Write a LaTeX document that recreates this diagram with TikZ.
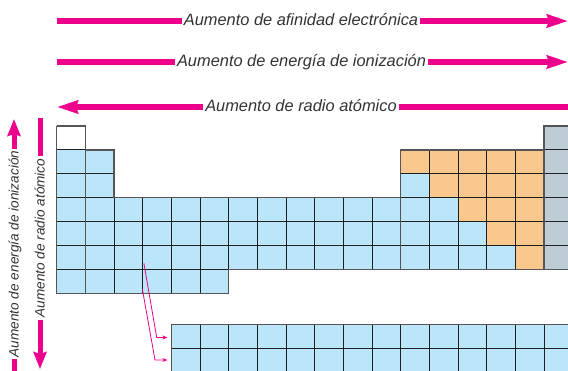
\documentclass[tikz,border=0pt]{standalone}
\usepackage{fontspec}
\setmainfont{Liberation Sans}
\usetikzlibrary{arrows.meta}
\definecolor{cellblue}{RGB}{187,229,248}
\definecolor{cellorange}{RGB}{250,199,140}
\definecolor{cellgray}{RGB}{190,205,213}
\definecolor{pinkarrow}{RGB}{236,0,140}
\definecolor{txtgray}{RGB}{51,51,51}
\definecolor{edgegray}{RGB}{85,85,85}
\begin{document}
\begin{tikzpicture}[x=1pt,y=-1pt,
  bigarrow/.style={draw=pinkarrow, line width=6pt},
  bigtip/.style={-{Stealth[length=21pt,width=13pt,inset=2pt]}},
  vshaft/.style={draw=pinkarrow, line width=5pt},
  vtip/.style={-{Stealth[length=17pt,width=13pt,inset=2pt]}},
  hlabel/.style={font=\itshape\fontsize{16.4}{18}\selectfont, text=txtgray, inner sep=2pt, anchor=base},
  vlabel/.style={font=\itshape\fontsize{13.6}{15}\selectfont, text=txtgray, inner sep=2pt, rotate=90, anchor=base},
  cellline/.style={draw=black!88, line width=0.9pt},
  edge/.style={draw=edgegray, line width=1.3pt},
  smallarrow/.style={draw=pinkarrow, line width=0.8pt, -{Stealth[length=5pt,width=4pt]}}]
\useasboundingbox (0,0) rectangle (568,370);
\clip (0,0) rectangle (568,370);
\fill[white] (0,0) rectangle (568,370);

% horizontal arrows
\coordinate (a1s) at (57,21);  \coordinate (a1e) at (568,21);
\node[hlabel] (t1) at (301,25.5) {Aumento de afinidad electrónica};
\draw[bigarrow] (a1s) -- (t1.west |- a1s);
\draw[bigarrow,bigtip] (t1.east |- a1s) -- (a1e);

\coordinate (a2s) at (57,62);  \coordinate (a2e) at (568,62);
\node[hlabel] (t2) at (301.5,66.5) {Aumento de energía de ionización};
\draw[bigarrow] (a2s) -- (t2.west |- a2s);
\draw[bigarrow,bigtip] (t2.east |- a2s) -- (a2e);

\coordinate (a3s) at (57,107);  \coordinate (a3e) at (570,107);
\node[hlabel] (t3) at (301,111.5) {Aumento de radio atómico};
\draw[bigarrow,bigtip] (t3.west |- a3s) -- (a3s);
\draw[bigarrow] (t3.east |- a3s) -- (a3e);

% vertical arrows
\coordinate (v1top) at (14,119);  \coordinate (v1bot) at (14,375);
\node[vlabel] (vl1) at (18.5,254) {Aumento de energía de ionización};
\draw[vshaft,vtip] (v1top |- vl1.east) -- (v1top);
\draw[vshaft] (v1bot |- vl1.west) -- (v1bot);

\coordinate (v2top) at (40,118);  \coordinate (v2bot) at (40,369);
\node[vlabel] (vl2) at (44.5,238) {Aumento de radio atómico};
\draw[vshaft] (v2top) -- (v2top |- vl2.east);
\draw[vshaft,vtip] (v2bot |- vl2.west) -- (v2bot);

% table
\begin{scope}[shift={(56.7pt,-126pt)}, x=28.67pt, y=-23.9pt]
  \fill[cellblue] (0,1) rectangle (2,7);
  \fill[cellblue] (2,6) rectangle (6,7);
  \fill[cellblue] (2,3) rectangle (12,6);
  \foreach \r in {2,...,6} {\foreach \c in {13,...,17} {
    \ifnum\c>\numexpr\r+10\relax \def\cc{cellorange}\else\def\cc{cellblue}\fi
    \fill[\cc] (\c-1,\r-1) rectangle (\c,\r);
  }}
  \fill[cellgray] (17,0) rectangle (18,6);
  \foreach \c in {1,18} \draw[cellline] (\c-1,0) rectangle (\c,1);
  \foreach \r in {2,3} {\foreach \c in {1,2,13,14,15,16,17,18}
    \draw[cellline] (\c-1,\r-1) rectangle (\c,\r);}
  \foreach \r in {4,5,6} {\foreach \c in {1,...,18}
    \draw[cellline] (\c-1,\r-1) rectangle (\c,\r);}
  \foreach \c in {1,...,6} \draw[cellline] (\c-1,6) rectangle (\c,7);
  % lanthanides / actinides
  \foreach \r in {0,1} {\foreach \c in {0,...,14} {
    \fill[cellblue] (4+\c,8.297+\r) rectangle (5+\c,9.297+\r);
    \draw[cellline] (4+\c,8.297+\r) rectangle (5+\c,9.297+\r);
  }}
  % outline
  \draw[edge] (0,0) -- (1,0) -- (1,1) -- (2,1) -- (2,3) -- (12,3) -- (12,1) -- (17,1) -- (17,0) -- (18.5,0);
  \draw[edge] (0,0) -- (0,7) -- (6,7) -- (6,6) -- (18.5,6);
  \draw[edge] (1,0) -- (1,7);
  \draw[edge] (12,3) -- (12,6);
  \draw[edge] (17,0) -- (17,6);
  \draw[edge] (18.5,8.297) -- (4,8.297) -- (4,10.5);
\end{scope}

% pointer arrows to the f-block
\coordinate (s1a) at (143.9,263.3); \coordinate (s1b) at (156.7,337.5); \coordinate (s1c) at (167.5,337.5);
\coordinate (s2a) at (142.4,289.3); \coordinate (s2b) at (155,360);     \coordinate (s2c) at (167.5,360);
\draw[smallarrow] (s1a) -- (s1b) -- (s1c);
\draw[smallarrow] (s2a) -- (s2b) -- (s2c);
\end{tikzpicture}
\end{document}
